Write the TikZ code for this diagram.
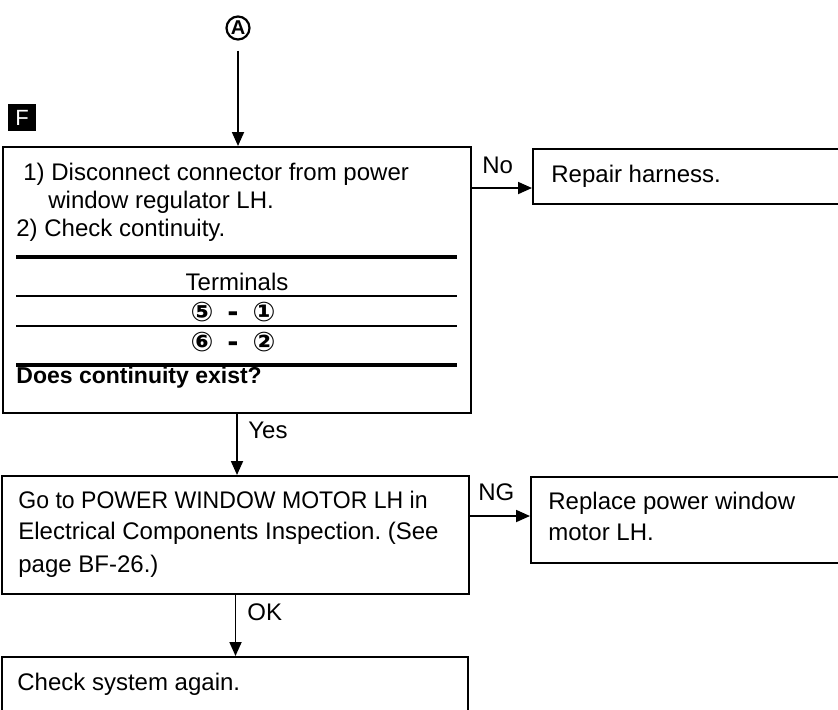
\documentclass[tikz,border=0pt]{standalone}
\usepackage{fontspec}
\setmainfont{Liberation Sans}
\newfontfamily\symfont{DejaVu Sans}
\usepackage{tikz}
\usetikzlibrary{arrows.meta, positioning, fit, calc}
\frenchspacing

\tikzset{
  box/.style={draw, line width=1pt, inner sep=0pt},
  arr/.style={-{Triangle[length=7pt,width=6pt]}, line width=0.9pt},
  txt/.style={anchor=base west, inner sep=0pt, font=\fontsize{12}{14}\selectfont},
  lbl/.style={anchor=west, inner sep=0pt, font=\fontsize{12}{14}\selectfont},
  pair/.style={inner sep=0pt, font=\symfont\fontsize{13.5}{13.5}\selectfont},
  thickrule/.style={line width=1.7pt},
  thinrule/.style={line width=0.8pt}
}

\begin{document}
\begin{tikzpicture}[x=0.5pt, y=-0.5pt]
  \useasboundingbox (0,0) rectangle (838,709);
  \clip (0,0) rectangle (838,709);
  % Cajas
  \node[box, fit={(3,147) (471,413)}] (check) {};
  \node[box, fit={(533,149) (850,204)}] (repair) {};
  \node[box, fit={(2,476) (469,594)}] (motor) {};
  \node[box, fit={(531,477) (850,563)}] (replace) {};
  \node[box, fit={(2,657) (468,730)}] (again) {};
  % Marcas A y F
  \node[circle, draw, line width=1.1pt, minimum size=11.5pt, inner sep=0pt,
        font=\bfseries\fontsize{10}{10}\selectfont] (markA) at (238,28) {A};
  \node[fill=black, text=white, minimum width=14pt, minimum height=13.5pt,
        inner sep=0pt, font=\fontsize{11}{11}\selectfont] (markF) at (22,117.5) {F};
  % Caja 1
  \node[txt] (c1) at (23,180.5) {1) Disconnect connector from power};
  \node[txt] (c2) at (48,208.5) {window regulator LH.};
  \node[txt] (c3) at (16,236.5) {2) Check continuity.};
  \draw[thickrule] (16,257) -- (457,257);
  \node[txt, anchor=base] (term) at (237,290.5) {Terminals};
  \draw[thinrule] (16,296) -- (457,296);
  \node[pair] (pair1) at (233,312) {\bfseries ⑤\hspace{7pt}-\hspace{7pt}①};
  \draw[thinrule] (16,326) -- (457,326);
  \node[pair] (pair2) at (233,342) {\bfseries ⑥\hspace{7pt}-\hspace{7pt}②};
  \draw[thickrule] (16,365) -- (457,365);
  \node[txt, font=\bfseries\fontsize{11.5}{14}\selectfont] (ask) at (16,383) {Does continuity exist?};
  % Otras cajas
  \node[txt] (r1) at (551,182) {Repair harness.};
  \node[txt] (m1) at (18,508) {\scalebox{0.96}[1]{Go to POWER WINDOW MOTOR LH in}};
  \node[txt] (m2) at (18,539) {Electrical Components Inspection. (See};
  \node[txt] (m3) at (18,572) {page BF-26.)};
  \node[txt] (p1) at (548,509) {Replace power window};
  \node[txt] (p2) at (548,540) {motor LH.};
  \node[txt] (a1) at (17,690) {Check system again.};
  % Flechas
  \draw[arr, shorten <=5pt] (markA) -- (markA |- check.north);
  \draw[arr] (check.east |- 0,188) -- (repair.west |- 0,188);
  \draw[arr] (check.south) -- (check.south |- motor.north);
  \draw[arr] (motor.east |- 0,516) -- (replace.west |- 0,516);
  \draw[arr] (motor.south) -- (motor.south |- again.north);
  % Etiquetas
  \node[lbl] (lno) at (482,165) {No};
  \node[lbl] (lyes) at (248,430) {Yes};
  \node[lbl] (lng) at (478,492) {NG};
  \node[lbl] (lok) at (247,612) {OK};
\end{tikzpicture}
\end{document}
